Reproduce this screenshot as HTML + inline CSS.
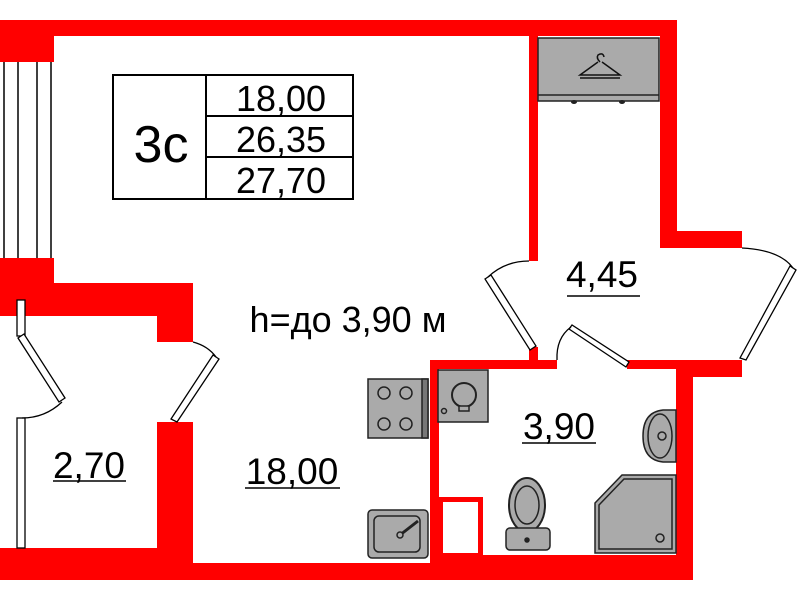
<!DOCTYPE html>
<html><head><meta charset="utf-8"><style>
html,body{margin:0;padding:0;background:#fff;}
svg{display:block;}
text{font-family:"Liberation Sans",sans-serif;fill:#000;}
</style></head><body>
<svg width="800" height="600" viewBox="0 0 800 600" xmlns="http://www.w3.org/2000/svg">
<g fill="#ff0000" stroke="none">
  <rect x="0" y="20" width="677" height="16"/>
  <rect x="0" y="20" width="54" height="42"/>
  <rect x="0" y="258" width="54" height="30"/>
  <rect x="0" y="283" width="193" height="33"/>
  <rect x="157" y="283" width="36" height="59"/>
  <rect x="157" y="422" width="36" height="158"/>
  <rect x="0" y="548" width="193" height="32"/>
  <rect x="193" y="563" width="250" height="17"/>
  <rect x="529" y="36" width="9" height="225"/>
  <rect x="660" y="20" width="17" height="228"/>
  <rect x="660" y="231" width="82" height="17"/>
  <rect x="529" y="347" width="9" height="15"/>
  <rect x="430" y="360" width="127" height="9"/>
  <rect x="627" y="360" width="50" height="9"/>
  <rect x="677" y="360" width="65" height="17"/>
  <rect x="430" y="360" width="9" height="220"/>
  <rect x="676" y="360" width="17" height="220"/>
  <rect x="430" y="555" width="263" height="25"/>
</g>
<rect x="440.5" y="499.5" width="40" height="56" fill="#fff" stroke="#ff0000" stroke-width="5"/>
<g stroke="#000" stroke-width="1.5">
  <line x1="4" y1="62" x2="4" y2="258"/>
  <line x1="18" y1="62" x2="18" y2="258"/>
  <line x1="37" y1="62" x2="37" y2="258"/>
  <line x1="51" y1="62" x2="51" y2="258"/>
</g>
<g stroke="#000" stroke-width="1.3" fill="#fff">
  <rect x="17" y="300" width="8" height="36"/>
  <rect x="17" y="418" width="8" height="130"/>
  <polygon points="18,338 24,334 65,398 59,402"/>
  <path d="M62,402 Q45,418 22,418" fill="none"/>
  <polygon points="213,355 219,359 177,422 171,419"/>
  <path d="M193,342 Q208,346 216,357" fill="none"/>
  <polygon points="485,279 491,275 536,346 530,350"/>
  <path d="M488,277 Q505,261 529,261" fill="none"/>
  <polygon points="790,266 796,270 746,360 740,358"/>
  <path d="M742,248 Q780,250 793,268" fill="none"/>
  <polygon points="569,329 572,325 629,362 626,367"/>
  <path d="M557,360 Q556,338 571,327" fill="none"/>
</g>
<g stroke="#000" stroke-width="2" fill="none">
  <rect x="113" y="75" width="240" height="124"/>
  <line x1="206" y1="75" x2="206" y2="199"/>
  <line x1="206" y1="116" x2="353" y2="116"/>
  <line x1="206" y1="157" x2="353" y2="157"/>
</g>
<text x="161" y="162" font-size="52" text-anchor="middle">3с</text>
<text x="281" y="111" font-size="36" text-anchor="middle">18,00</text>
<text x="281" y="152" font-size="36" text-anchor="middle">26,35</text>
<text x="281" y="193" font-size="36" text-anchor="middle">27,70</text>
<rect x="538" y="38" width="121" height="63" fill="#aaa" stroke="#222" stroke-width="1.5"/>
<line x1="538" y1="95" x2="659" y2="95" stroke="#222" stroke-width="1.5"/>
<ellipse cx="574" cy="102" rx="3" ry="2" fill="#222"/>
<ellipse cx="622" cy="102" rx="3" ry="2" fill="#222"/>
<g fill="none" stroke="#111" stroke-width="1.5">
  <path d="M598,62 L580,75 L620,75 L602,62"/>
  <path d="M600,62 Q596,58 598,55 Q603,52 604,57"/>
  <line x1="580" y1="78" x2="620" y2="78"/>
</g>
<text x="602" y="287" font-size="37" text-anchor="middle">4,45</text>
<line x1="567" y1="296" x2="640" y2="296" stroke="#000" stroke-width="1.5"/>
<text x="348" y="332" font-size="36" text-anchor="middle">h=до 3,90 м</text>
<text x="559" y="439" font-size="37" text-anchor="middle">3,90</text>
<line x1="522" y1="443" x2="596" y2="443" stroke="#000" stroke-width="1.5"/>
<text x="89" y="478" font-size="37" text-anchor="middle">2,70</text>
<line x1="53" y1="481" x2="126" y2="481" stroke="#000" stroke-width="1.5"/>
<text x="292" y="484" font-size="37" text-anchor="middle">18,00</text>
<line x1="245" y1="488" x2="340" y2="488" stroke="#000" stroke-width="1.5"/>
<g stroke="#222" stroke-width="1.5">
  <rect x="368" y="379" width="60" height="59" fill="#aaa"/>
  <rect x="422" y="379" width="6" height="59" fill="#777"/>
  <circle cx="384" cy="393" r="6" fill="#aaa"/>
  <circle cx="406" cy="393" r="6" fill="#aaa"/>
  <circle cx="384" cy="424" r="6" fill="#aaa"/>
  <circle cx="406" cy="424" r="6" fill="#aaa"/>
  <rect x="368" y="510" width="60" height="48" rx="4" fill="#aaa"/>
  <rect x="374" y="516" width="46" height="36" rx="5" fill="#aaa"/>
  <line x1="400" y1="535" x2="418" y2="521" stroke-width="3"/>
  <circle cx="400" cy="535" r="3" fill="#aaa"/>
  <rect x="438" y="370" width="50" height="52" fill="#aaa"/>
  <circle cx="464" cy="395" r="12" fill="#aaa" stroke-width="2"/>
  <rect x="459" y="406" width="10" height="5" fill="#aaa"/>
  <circle cx="444" cy="411" r="2.5" fill="#aaa"/>
  <path d="M676,410 L663,410 Q643,412 643,436 Q643,460 663,462 L676,462 Z" fill="#aaa"/>
  <ellipse cx="660" cy="436" rx="12" ry="22" fill="#aaa"/>
  <circle cx="662" cy="436" r="4" fill="#aaa"/>
  <polygon points="595,503 622,475 676,475 676,553 595,553" fill="#aaa"/>
  <polygon points="599,505 624,479 672,479 672,549 599,549" fill="none"/>
  <circle cx="660" cy="538" r="4" fill="#aaa"/>
  <ellipse cx="527" cy="505" rx="18" ry="27" fill="#aaa" stroke-width="2"/>
  <ellipse cx="527" cy="505" rx="12" ry="19" fill="#aaa"/>
  <rect x="506" y="528" width="44" height="22" rx="4" fill="#aaa"/>
  <circle cx="527" cy="540" r="2" fill="#222"/>
</g>
</svg>
</body></html>
